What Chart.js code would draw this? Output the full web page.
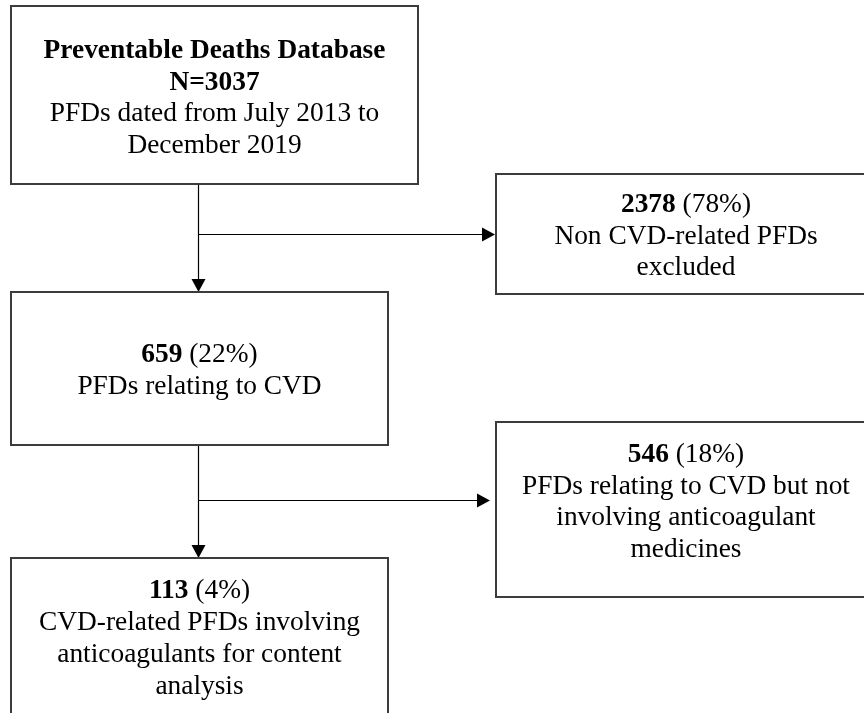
<!DOCTYPE html>
<html>
<head>
<meta charset="utf-8">
<script src="https://cdn.jsdelivr.net/npm/chart.js@4.4.0/dist/chart.umd.min.js"></script>
<style>
  html, body { margin: 0; padding: 0; background: #ffffff; }
  #wrap { width: 864px; height: 713px; position: relative; }
</style>
</head>
<body>
<div id="wrap"><canvas id="chart"></canvas></div>
<script>
// Flow stages (data)
const stageCounts = [3037, 2378, 659, 546, 113];
const stagePercents = [null, 78, 22, 18, 4];
const stageHeadings = ["Preventable Deaths Database", null, null, null, null];
const stageLines = [
  ["PFDs dated from July 2013 to", "December 2019"],
  ["Non CVD-related PFDs", "excluded"],
  ["PFDs relating to CVD"],
  ["PFDs relating to CVD but not", "involving anticoagulant", "medicines"],
  ["CVD-related PFDs involving", "anticoagulants for content", "analysis"]
];
// connections: [from, to, kind]  kind "down" = main flow, "side" = excluded branch
const links = [[0, 2, "down"], [0, 1, "side"], [2, 4, "down"], [2, 3, "side"]];

// Layout in scale units (canvas is 864 x 713 units)
const boxLayout = [
  { x0: 11, y0: 6, x1: 418, y1: 184, shift: 1.5 },
  { x0: 496, y0: 174, x1: 876, y1: 294, shift: 0.5 },
  { x0: 11, y0: 292, x1: 388, y1: 445, shift: 0.5 },
  { x0: 496, y0: 422, x1: 876, y1: 597, shift: -9 },
  { x0: 11, y0: 558, x1: 388, y1: 716, shift: 0 }
];
const trunkX = 198;
const branchY = { 1: 234, 3: 500 };
const branchGap = { 1: 1, 3: 6 };

const fontFamily = '"Liberation Serif", "Times New Roman", serif';
const fontSize = 27.4;
const lineHeight = 31.7;
const capHeight = 18;

function arrowHead(ctx, x, y, dir) {
  const len = 13, half = 7;
  ctx.beginPath();
  if (dir === "down") {
    ctx.moveTo(x, y);
    ctx.lineTo(x - half, y - len);
    ctx.lineTo(x + half, y - len);
  } else {
    ctx.moveTo(x, y);
    ctx.lineTo(x - len, y - half);
    ctx.lineTo(x - len, y + half);
  }
  ctx.closePath();
  ctx.fill();
}

const flowPlugin = {
  id: "flow",
  afterDatasetsDraw(chart) {
    const ctx = chart.ctx;
    const sx = chart.scales.x, sy = chart.scales.y;
    const px = v => sx.getPixelForValue(v);
    const py = v => sy.getPixelForValue(v);
    ctx.save();

    // connectors
    ctx.strokeStyle = "#000";
    ctx.fillStyle = "#000";
    ctx.lineWidth = 1.2;
    links.forEach(([from, to, kind]) => {
      const a = boxLayout[from], b = boxLayout[to];
      const x = Math.round(px(trunkX)) + 0.5;
      if (kind === "down") {
        const yTop = py(a.y1), yBot = py(b.y0);
        ctx.beginPath();
        ctx.moveTo(x, yTop);
        ctx.lineTo(x, yBot - 10);
        ctx.stroke();
        arrowHead(ctx, x, yBot, "down");
      } else {
        const y = Math.round(py(branchY[to])) + 0.5;
        const xEnd = px(b.x0) - branchGap[to];
        ctx.beginPath();
        ctx.moveTo(x, y);
        ctx.lineTo(xEnd - 10, y);
        ctx.stroke();
        arrowHead(ctx, xEnd, y, "right");
      }
    });

    // boxes and text
    stageCounts.forEach((count, i) => {
      const b = boxLayout[i];
      const x0 = px(b.x0), x1 = px(b.x1), y0 = py(b.y0), y1 = py(b.y1);
      ctx.strokeStyle = "#3c3c3c";
      ctx.lineWidth = 2;
      ctx.strokeRect(x0, y0, x1 - x0, y1 - y0);

      const rows = [];
      if (stageHeadings[i]) {
        rows.push([{ t: stageHeadings[i], bold: true }]);
        rows.push([{ t: "N=" + count, bold: true }]);
      } else {
        rows.push([{ t: String(count), bold: true }, { t: " (" + stagePercents[i] + "%)", bold: false }]);
      }
      stageLines[i].forEach(l => rows.push([{ t: l, bold: false }]));

      const cx = (x0 + x1) / 2;
      const cy = (y0 + y1) / 2 + b.shift;
      let base = cy - (rows.length - 1) * lineHeight / 2 + capHeight / 2;
      ctx.fillStyle = "#000";
      ctx.textBaseline = "alphabetic";
      ctx.textAlign = "left";
      rows.forEach(parts => {
        let w = 0;
        parts.forEach(p => {
          ctx.font = (p.bold ? "bold " : "") + fontSize + "px " + fontFamily;
          p.w = ctx.measureText(p.t).width;
          w += p.w;
        });
        let x = cx - w / 2;
        parts.forEach(p => {
          ctx.font = (p.bold ? "bold " : "") + fontSize + "px " + fontFamily;
          ctx.fillText(p.t, x, base);
          x += p.w;
        });
        base += lineHeight;
      });
    });
    ctx.restore();
  }
};

new Chart(document.getElementById("chart"), {
  type: "scatter",
  data: {
    datasets: [{
      label: "stages",
      data: boxLayout.map(b => ({ x: (b.x0 + b.x1) / 2, y: (b.y0 + b.y1) / 2 })),
      pointRadius: 0,
      pointHoverRadius: 0
    }]
  },
  options: {
    responsive: true,
    maintainAspectRatio: false,
    animation: false,
    layout: { padding: 0 },
    plugins: { legend: { display: false }, tooltip: { enabled: false } },
    events: [],
    scales: {
      x: { type: "linear", min: 0, max: 864, display: false },
      y: { type: "linear", min: 0, max: 713, reverse: true, display: false }
    }
  },
  plugins: [flowPlugin]
});
</script>
</body>
</html>
